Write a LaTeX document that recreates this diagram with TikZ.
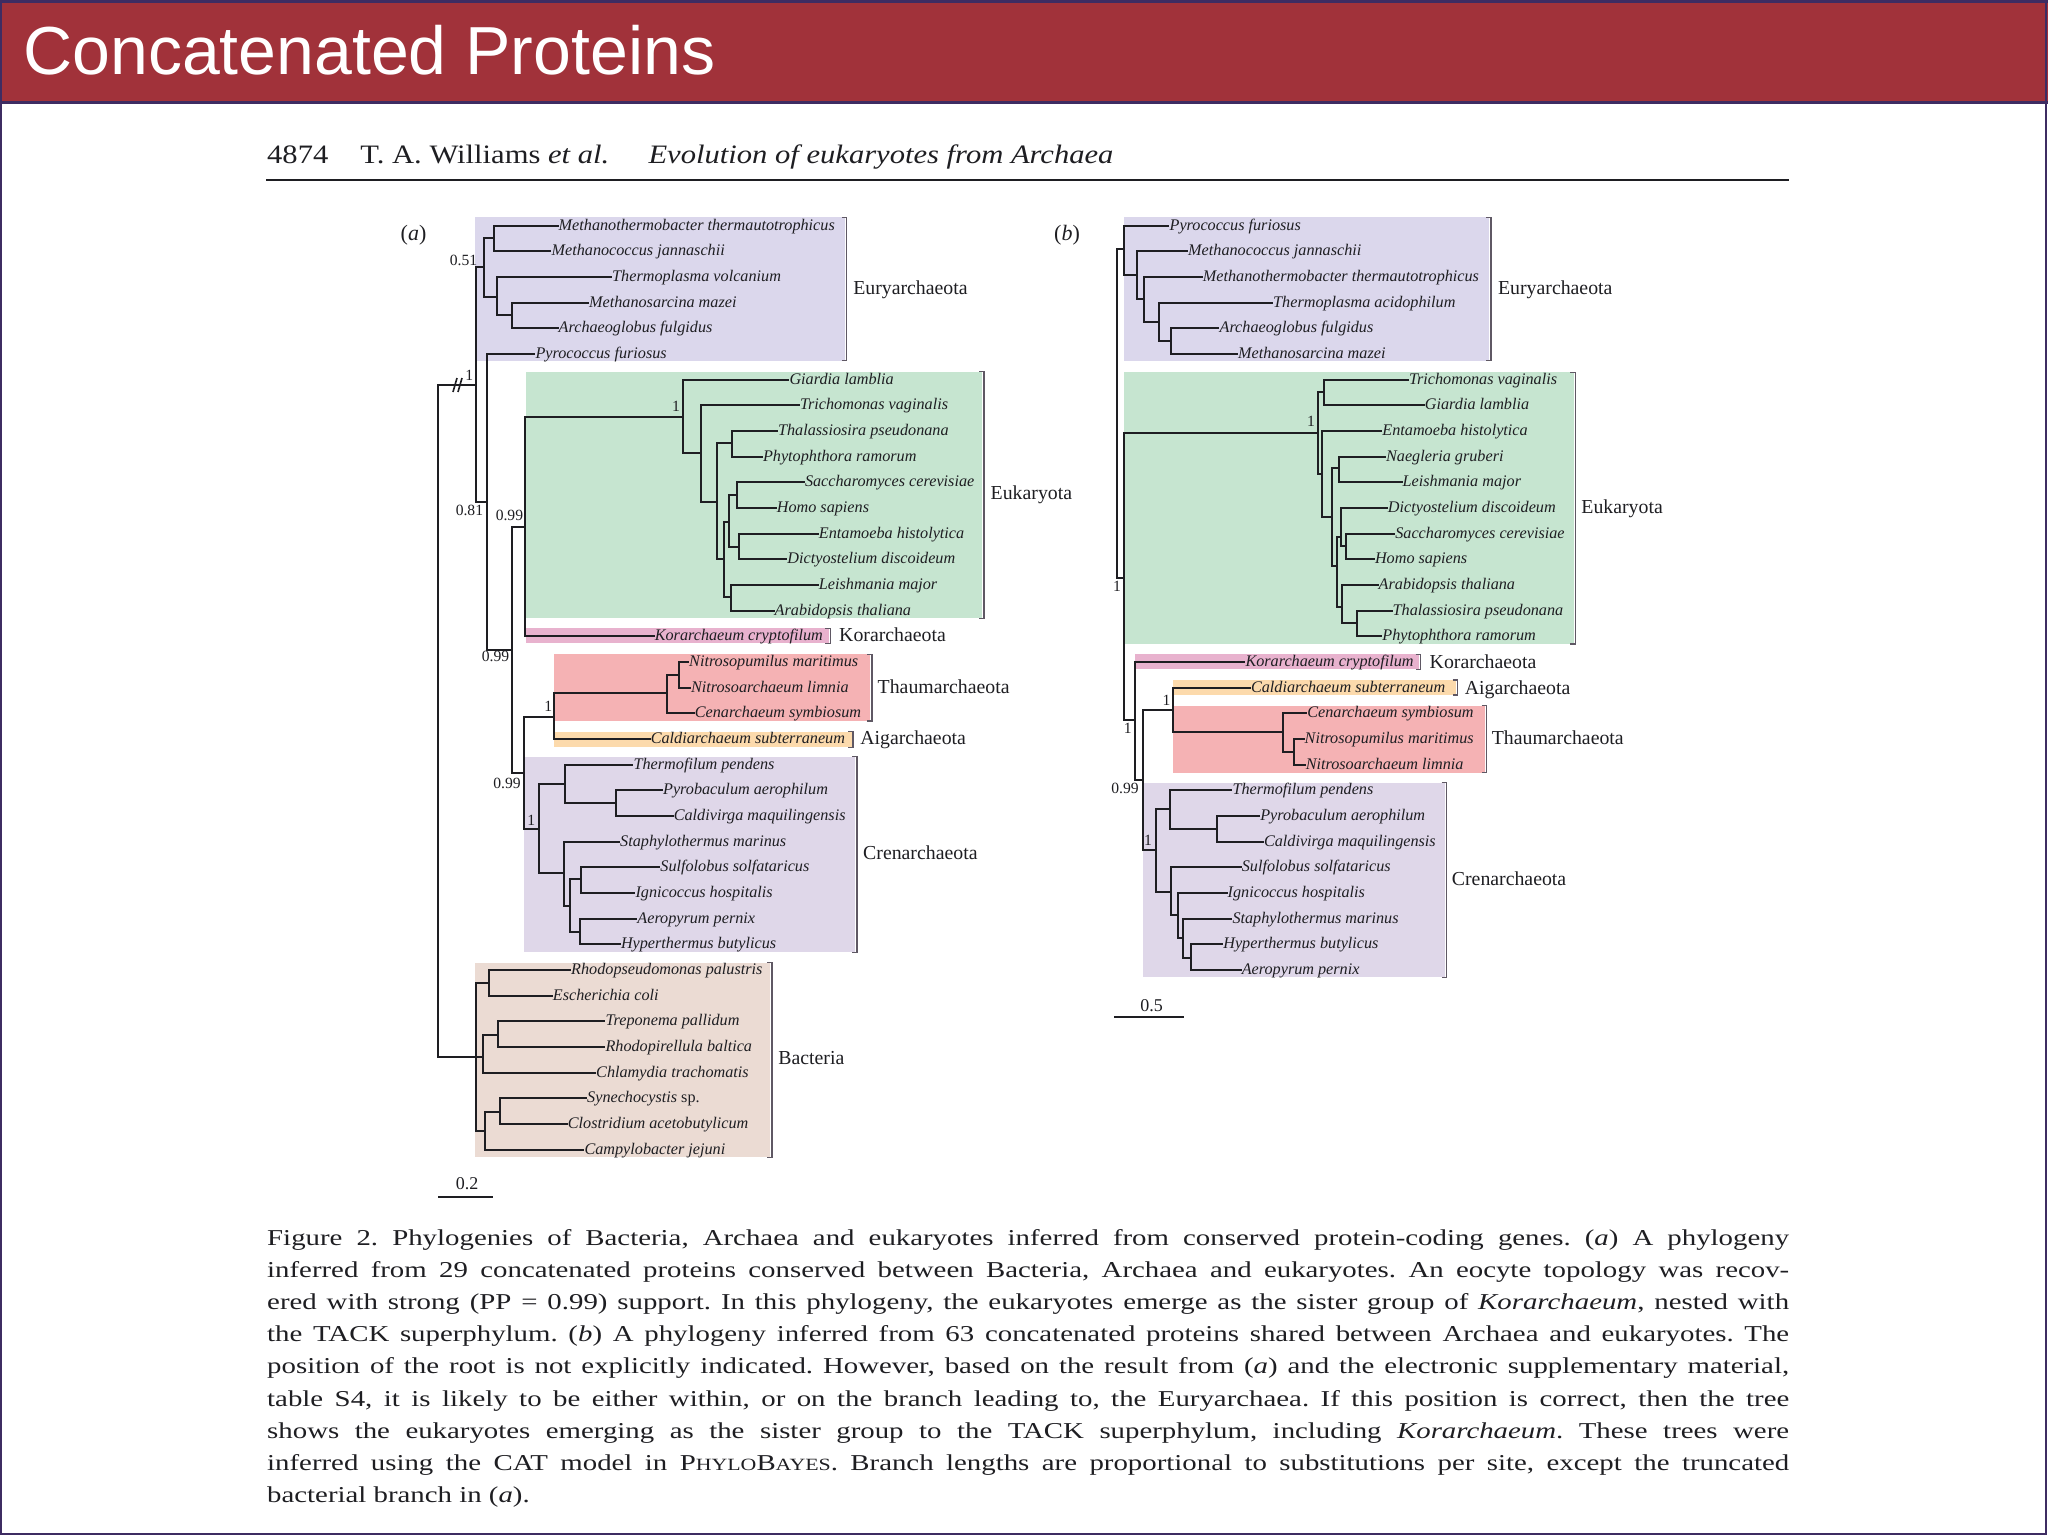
\documentclass[tikz,border=0pt]{standalone}
\usepackage{fontspec}
\setmainfont{Liberation Serif}
\newfontfamily\titlesans{Liberation Sans}
\definecolor{titlered}{RGB}{161,50,58}
\definecolor{framepurple}{RGB}{62,44,98}
\definecolor{eurycol}{RGB}{219,215,236}
\definecolor{eukcol}{RGB}{198,229,208}
\definecolor{korcol}{RGB}{232,178,206}
\definecolor{thaumcol}{RGB}{245,178,180}
\definecolor{aigcol}{RGB}{252,218,172}
\definecolor{crencol}{RGB}{223,215,233}
\definecolor{bactcol}{RGB}{235,219,211}
\definecolor{brackcol}{RGB}{95,88,100}
\definecolor{inkcol}{RGB}{30,30,34}
\frenchspacing
\begin{document}
\begin{tikzpicture}[x=0.5pt,y=-0.5pt,
  branch/.style={draw=inkcol,line width=1pt,line cap=rect},
  brackline/.style={draw=brackcol,line width=0.6pt},
  leaflab/.style={anchor=mid west,inner sep=0.4pt,font=\fontsize{8.1}{9}\selectfont\itshape,text=inkcol},
  grouplab/.style={anchor=mid west,inner sep=0pt,font=\fontsize{9.9}{11}\selectfont,text=inkcol},
  supp/.style={anchor=center,inner sep=0pt,font=\fontsize{7.8}{9}\selectfont,text=inkcol},
  capline/.style={anchor=base west,inner sep=0pt,transform shape,font=\fontsize{11.35}{16}\selectfont,text=inkcol},
  headtxt/.style={anchor=base west,inner sep=0pt,transform shape,font=\fontsize{13.3}{16}\selectfont,text=inkcol}]
\useasboundingbox (0,0) rectangle (2048,1536);
% ---------- title bar ----------
\fill[white] (0,0) rectangle (2048,1536);
\fill[titlered] (0,0) rectangle (2048,103);
\draw[framepurple,line width=1.2pt] (0,1.5) -- (2048,1.5);
\draw[framepurple,line width=1.5pt] (0,103) -- (2048,103);
\draw[framepurple,line width=0.8pt] (1,1) rectangle (2046,1534);
\node[anchor=base west,inner sep=0pt,text=white,font=\titlesans\fontsize{34}{40}\selectfont] (title) at (23,75) {Concatenated Proteins};
% ---------- running header ----------
\begin{scope}[shift={(266.7,0)},xscale=1.15]
\node[headtxt] (hd1) at (0,163) {4874};
\node[headtxt] (hd2) at (81.1,163) {T. A. Williams \textit{et al.}};
\node[headtxt] (hd3) at (331.6,163) {\textit{Evolution of eukaryotes from Archaea}};
\end{scope}
\draw[inkcol,line width=1pt] (266,180) -- (1789,180);
% ---------- panel letters ----------
\node[inner sep=0pt,font=\fontsize{11}{13}\selectfont,text=inkcol] (pa) at (413.5,235) {(\textit{a})};
\node[inner sep=0pt,font=\fontsize{11}{13}\selectfont,text=inkcol] (pb) at (1067,235) {(\textit{b})};
% ---------- coloured boxes, tree a ----------
\fill[eurycol] (475.4,217.3) rectangle (845,360.7);
\fill[eukcol] (526,371.7) rectangle (982,618.3);
\fill[korcol] (526,628.3) rectangle (828.5,643.3);
\fill[thaumcol] (554,654.3) rectangle (870,721);
\fill[aigcol] (554,731.7) rectangle (851.5,747.3);
\fill[crencol] (524.1,756.7) rectangle (855,952.3);
\fill[bactcol] (475,962.7) rectangle (770,1157.3);
% ---------- coloured boxes, tree b ----------
\fill[eurycol] (1124,217.3) rectangle (1489,360.7);
\fill[eukcol] (1124,372.3) rectangle (1573.5,644);
\fill[korcol] (1135.1,654.3) rectangle (1418.5,669.3);
\fill[aigcol] (1172.9,680) rectangle (1455.5,695);
\fill[thaumcol] (1172.9,705.7) rectangle (1484.5,772.7);
\fill[crencol] (1142.5,782.7) rectangle (1444.5,977.3);
% ---------- brackets ----------
\foreach \bx/\bt/\bb in {846.8/217.3/360.7, 984/371.7/618.3, 830.3/628.3/643.3, 872/654.3/721, 853/731.7/747.3, 857/756.7/952.3, 772/962.7/1157.3,
  1491/217.3/360.7, 1575.4/372.3/644, 1420.5/654.3/669.3, 1457.5/680/695, 1486.5/705.7/772.7, 1446.5/782.7/977.3}
  \draw[brackline] (\bx-5,\bt) -- (\bx,\bt) -- (\bx,\bb) -- (\bx-5,\bb);
% ---------- group labels ----------
\node[grouplab] (gaEury) at (852.9,290) {Euryarchaeota};
\node[grouplab] (gaEuk) at (990.3,495) {Eukaryota};
\node[grouplab] (gaKor) at (838.8,637) {Korarchaeota};
\node[grouplab] (gaThaum) at (877.3,688.5) {Thaumarchaeota};
\node[grouplab] (gaAig) at (860,740) {Aigarchaeota};
\node[grouplab] (gaCren) at (862.8,855) {Crenarchaeota};
\node[grouplab] (gaBact) at (778,1060) {Bacteria};
\node[grouplab] (gbEury) at (1497.7,290) {Euryarchaeota};
\node[grouplab] (gbEuk) at (1581,508.5) {Eukaryota};
\node[grouplab] (gbKor) at (1429.3,664) {Korarchaeota};
\node[grouplab] (gbAig) at (1464.4,690) {Aigarchaeota};
\node[grouplab] (gbThaum) at (1491.4,740) {Thaumarchaeota};
\node[grouplab] (gbCren) at (1451.5,881) {Crenarchaeota};
% ---------- leaves, tree a ----------
\foreach \n/\x/\r/\t in {
 a00/557.5/0/{Methanothermobacter thermautotrophicus},
 a01/550.4/1/{Methanococcus jannaschii},
 a02/611/2/{Thermoplasma volcanium},
 a03/587.9/3/{Methanosarcina mazei},
 a04/557.5/4/{Archaeoglobus fulgidus},
 a05/534.3/5/{Pyrococcus furiosus},
 a06/788.3/6/{Giardia lamblia},
 a07/798.8/7/{Trichomonas vaginalis},
 a08/776.9/8/{Thalassiosira pseudonana},
 a09/761.8/9/{Phytophthora ramorum},
 a10/803.8/10/{Saccharomyces cerevisiae},
 a11/775.6/11/{Homo sapiens},
 a12/817.7/12/{Entamoeba histolytica},
 a13/786.2/13/{Dictyostelium discoideum},
 a14/817.7/14/{Leishmania major},
 a15/773.5/15/{Arabidopsis thaliana},
 a16/653.6/16/{Korarchaeum cryptofilum},
 a17/688/17/{Nitrosopumilus maritimus},
 a18/689.8/18/{Nitrosoarchaeum limnia},
 a19/693.6/19/{Cenarchaeum symbiosum},
 a20/649.6/20/{Caldiarchaeum subterraneum},
 a21/632.4/21/{Thermofilum pendens},
 a22/661.9/22/{Pyrobaculum aerophilum},
 a23/672.6/23/{Caldivirga maquilingensis},
 a24/619/24/{Staphylothermus marinus},
 a25/659.2/25/{Sulfolobus solfataricus},
 a26/634.3/26/{Ignicoccus hospitalis},
 a27/636.2/27/{Aeropyrum pernix},
 a28/619.8/28/{Hyperthermus butylicus},
 a29/570/29/{Rhodopseudomonas palustris},
 a30/551.7/30/{Escherichia coli},
 a31/604.3/31/{Treponema pallidum},
 a32/604.3/32/{Rhodopirellula baltica},
 a33/595/33/{Chlamydia trachomatis},
 a34/586/34/{Synechocystis \textup{sp.}},
 a35/566.7/35/{Clostridium acetobutylicum},
 a36/583.3/36/{Campylobacter jejuni}}
 {\coordinate (\n) at (\x,{225.5+25.67*\r});
  \node[leaflab] (\n-l) at (\n) {\t};}
% ---------- leaves, tree b ----------
\foreach \n/\x/\r/\t in {
 b00/1168.4/0/{Pyrococcus furiosus},
 b01/1187/1/{Methanococcus jannaschii},
 b02/1201.7/2/{Methanothermobacter thermautotrophicus},
 b03/1272/3/{Thermoplasma acidophilum},
 b04/1218.4/4/{Archaeoglobus fulgidus},
 b05/1236.9/5/{Methanosarcina mazei},
 b06/1407.8/6/{Trichomonas vaginalis},
 b07/1423.7/7/{Giardia lamblia},
 b08/1381.2/8/{Entamoeba histolytica},
 b09/1384.9/9/{Naegleria gruberi},
 b10/1401.5/10/{Leishmania major},
 b11/1386.7/11/{Dictyostelium discoideum},
 b12/1394.1/12/{Saccharomyces cerevisiae},
 b13/1373.8/13/{Homo sapiens},
 b14/1377.5/14/{Arabidopsis thaliana},
 b15/1391.5/15/{Thalassiosira pseudonana},
 b16/1381.2/16/{Phytophthora ramorum},
 b17/1244.3/17/{Korarchaeum cryptofilum},
 b18/1249.8/18/{Caldiarchaeum subterraneum},
 b19/1306.1/19/{Cenarchaeum symbiosum},
 b20/1303.5/20/{Nitrosopumilus maritimus},
 b21/1304.6/21/{Nitrosoarchaeum limnia},
 b22/1231.3/22/{Thermofilum pendens},
 b23/1259.1/23/{Pyrobaculum aerophilum},
 b24/1262.8/24/{Caldivirga maquilingensis},
 b25/1240.6/25/{Sulfolobus solfataricus},
 b26/1226.5/26/{Ignicoccus hospitalis},
 b27/1231.3/27/{Staphylothermus marinus},
 b28/1222.1/28/{Hyperthermus butylicus},
 b29/1240.6/29/{Aeropyrum pernix}}
 {\coordinate (\n) at (\x,{225.5+25.67*\r});
  \node[leaflab] (\n-l) at (\n) {\t};}
% ---------- internal nodes, tree a ----------
\foreach \n/\x/\y in {aRoot/438.4/720, aArch/476.4/385, aEuryA/484.3/266.7, aMM/494.3/237.7,
 aTMA/496.8/296.7, aMA/512.1/315, aN1/486.5/501.7, aN2/511.8/650, aEK/525.2/526.7,
 aEuk/683/416.7, aE1/701.1/453.3, aE2/716.7/501.7, aE3/732.3/443.3, aE4/723.9/559.3,
 aE5/729.3/521.7, aE6/730.6/597.3, aE7/736.5/495, aE8/738.6/546.7,
 aTACK/524.1/772.7, aTA/554/716.7, aTh/666.8/693.3, aNN/679/675,
 aCren/539.4/829.3, aC1/565.4/784, aC3/616.3/803.3, aC2/564.3/873.3, aC4/570.4/906,
 aC5/580.7/879.3, aC6/579.6/931.7,
 aBact/476/1056.7, aB1/489.3/983.3, aB2/483.3/1056.7, aB4/498.3/1035, aB3/485/1131, aB5/500/1111.7}
 {\coordinate (\n) at (\x,\y);}
% ---------- internal nodes, tree b ----------
\foreach \n/\x/\y in {bRoot/1116.6/400, bEury/1124/249.3, bE1/1137/275, bE2/1143.7/299.3,
 bE3/1159.2/321.7, bE4/1171.4/340.7, bMain/1124/578, bEuk/1317.5/433.3,
 bK1/1323.8/392.3, bK2/1322/474, bK3/1332/517.3, bK4/1338.6/468.3, bK5/1336.8/566,
 bK6/1341.2/536.7, bK8/1346/546, bK7/1342.3/606.7, bK9/1357.1/623.3,
 bKT/1135.1/720, bTACK/1142.5/780, bTA/1172.9/710, bTh/1283.1/732.3, bNN/1294.2/751.7,
 bCren/1155.5/850, bC1/1170.3/809.3, bC3/1217.3/829.3, bC2/1171/891.7,
 bC4/1177.7/915, bC5/1183.2/937.7, bC6/1191.4/957.7}
 {\coordinate (\n) at (\x,\y);}
% ---------- branches ----------
\foreach \p/\c in {aRoot/aArch, aRoot/aBact, aArch/aEuryA, aArch/aN1, aEuryA/aMM, aEuryA/aTMA,
 aMM/a00, aMM/a01, aTMA/a02, aTMA/aMA, aMA/a03, aMA/a04, aN1/a05, aN1/aN2,
 aN2/aEK, aN2/aTACK, aEK/aEuk, aEK/a16, aEuk/a06, aEuk/aE1, aE1/a07, aE1/aE2,
 aE2/aE3, aE2/aE4, aE3/a08, aE3/a09, aE4/aE5, aE4/aE6, aE5/aE7, aE5/aE8,
 aE7/a10, aE7/a11, aE8/a12, aE8/a13, aE6/a14, aE6/a15,
 aTACK/aTA, aTACK/aCren, aTA/aTh, aTA/a20, aTh/aNN, aTh/a19, aNN/a17, aNN/a18,
 aCren/aC1, aCren/aC2, aC1/a21, aC1/aC3, aC3/a22, aC3/a23, aC2/a24, aC2/aC4,
 aC4/aC5, aC4/aC6, aC5/a25, aC5/a26, aC6/a27, aC6/a28,
 aBact/aB1, aBact/aB2, aBact/aB3, aB1/a29, aB1/a30, aB2/aB4, aB2/a33, aB4/a31, aB4/a32,
 aB3/aB5, aB3/a36, aB5/a34, aB5/a35,
 bRoot/bEury, bRoot/bMain, bEury/b00, bEury/bE1, bE1/b01, bE1/bE2, bE2/b02, bE2/bE3,
 bE3/b03, bE3/bE4, bE4/b04, bE4/b05, bMain/bEuk, bMain/bKT, bEuk/bK1, bEuk/bK2,
 bK1/b06, bK1/b07, bK2/b08, bK2/bK3, bK3/bK4, bK3/bK5, bK4/b09, bK4/b10,
 bK5/bK6, bK5/bK7, bK6/b11, bK6/bK8, bK8/b12, bK8/b13, bK7/b14, bK7/bK9, bK9/b15, bK9/b16,
 bKT/b17, bKT/bTACK, bTACK/bTA, bTACK/bCren, bTA/b18, bTA/bTh, bTh/b19, bTh/bNN,
 bNN/b20, bNN/b21, bCren/bC1, bCren/bC2, bC1/b22, bC1/bC3, bC3/b23, bC3/b24,
 bC2/b25, bC2/bC4, bC4/b26, bC4/bC5, bC5/b27, bC5/bC6, bC6/b28, bC6/b29}
 {\draw[branch] (\p) |- (\c);}
% truncated bacterial branch mark
\draw[inkcol,line width=0.8pt] (453,392) -- (457,378) (458,392) -- (462,378);
% ---------- support values ----------
\node[supp] (sa1) at (463.5,260) {0.51};
\node[supp] (sa2) at (469.3,375) {1};
\node[supp] (sa3) at (469.4,510) {0.81};
\node[supp] (sa4) at (509.4,515) {0.99};
\node[supp] (sa5) at (676,406.7) {1};
\node[supp] (sa6) at (495.5,656.7) {0.99};
\node[supp] (sa7) at (548.2,706.7) {1};
\node[supp] (sa8) at (507,783.3) {0.99};
\node[supp] (sa9) at (531.2,820.7) {1};
\node[supp] (sb1) at (1310.9,421.7) {1};
\node[supp] (sb2) at (1117,586.7) {1};
\node[supp] (sb3) at (1127.7,728.3) {1};
\node[supp] (sb4) at (1125,788.3) {0.99};
\node[supp] (sb5) at (1166.6,700) {1};
\node[supp] (sb6) at (1148.1,840) {1};
% ---------- scale bars ----------
\coordinate (sba0) at (438.3,1196.7); \coordinate (sba1) at (492.7,1196.7);
\draw[inkcol,line width=0.9pt] (sba0) -- (sba1);
\node[inner sep=0pt,font=\fontsize{9}{10}\selectfont,text=inkcol] (sbal) at (467,1183.3) {0.2};
\coordinate (sbb0) at (1114,1017.3); \coordinate (sbb1) at (1184.4,1017.3);
\draw[inkcol,line width=0.9pt] (sbb0) -- (sbb1);
\node[inner sep=0pt,font=\fontsize{9}{10}\selectfont,text=inkcol] (sbbl) at (1151.5,1005.7) {0.5};
% ---------- caption ----------
\begin{scope}[shift={(266.7,0)},xscale=1.27]
\node[capline] (cap1) at (0,1245) {\makebox[599.2pt][s]{Figure 2. Phylogenies of Bacteria, Archaea and eukaryotes inferred from conserved protein-coding genes. (\textit{a}) A phylogeny}};
\node[capline] (cap2) at (0,1277.2) {\makebox[599.2pt][s]{inferred from 29 concatenated proteins conserved between Bacteria, Archaea and eukaryotes. An eocyte topology was recov-}};
\node[capline] (cap3) at (0,1309.4) {\makebox[599.2pt][s]{ered with strong (PP = 0.99) support. In this phylogeny, the eukaryotes emerge as the sister group of \textit{Korarchaeum}, nested with}};
\node[capline] (cap4) at (0,1341.6) {\makebox[599.2pt][s]{the TACK superphylum. (\textit{b}) A phylogeny inferred from 63 concatenated proteins shared between Archaea and eukaryotes. The}};
\node[capline] (cap5) at (0,1373.8) {\makebox[599.2pt][s]{position of the root is not explicitly indicated. However, based on the result from (\textit{a}) and the electronic supplementary material,}};
\node[capline] (cap6) at (0,1406) {\makebox[599.2pt][s]{table S4, it is likely to be either within, or on the branch leading to, the Euryarchaea. If this position is correct, then the tree}};
\node[capline] (cap7) at (0,1438.2) {\makebox[599.2pt][s]{shows the eukaryotes emerging as the sister group to the TACK superphylum, including \textit{Korarchaeum}. These trees were}};
\node[capline] (cap8) at (0,1470.4) {\makebox[599.2pt][s]{inferred using the CAT model in P{\fontsize{8.6}{10}\selectfont HYLO}B{\fontsize{8.6}{10}\selectfont AYES}. Branch lengths are proportional to substitutions per site, except the truncated}};
\node[capline] (cap9) at (0,1502.6) {bacterial branch in (\textit{a}).};
\end{scope}
\end{tikzpicture}
\end{document}
